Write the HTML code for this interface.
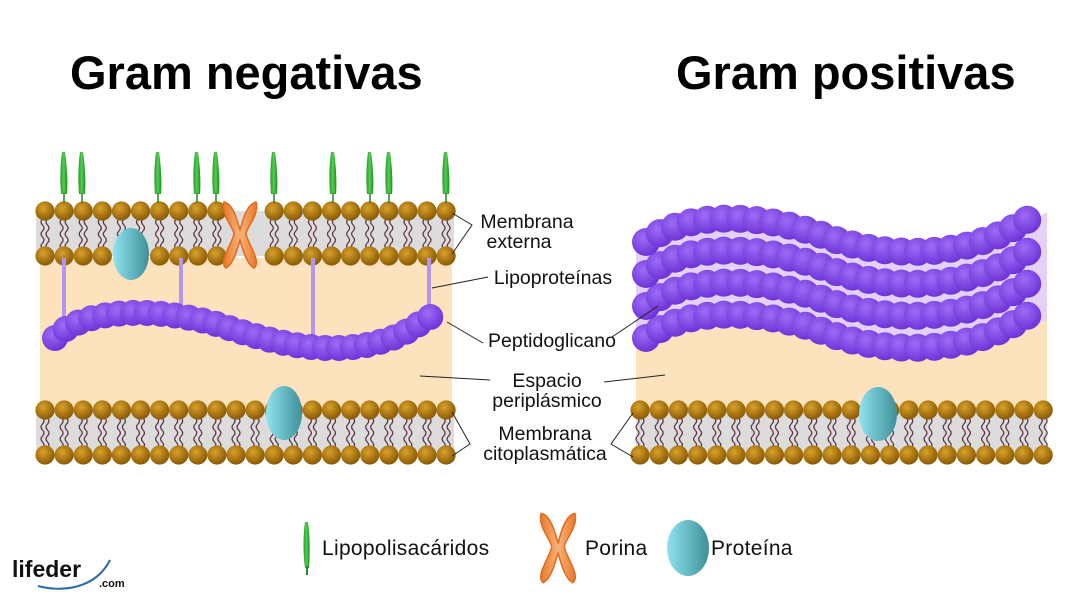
<!DOCTYPE html>
<html><head><meta charset="utf-8">
<style>
html,body{margin:0;padding:0;background:#fff;}
svg{display:block;}
text{font-family:"Liberation Sans",sans-serif;}
.lbl{font-size:19.5px;fill:#111;text-anchor:middle;}
.leg{font-size:21px;fill:#111;letter-spacing:0.3px;}
</style></head><body>
<svg id="s" width="1080" height="612" viewBox="0 0 1080 612" xmlns="http://www.w3.org/2000/svg">
<defs>
<radialGradient id="head" cx="40%" cy="35%" r="65%"><stop offset="0" stop-color="#d9a12a"/><stop offset="1" stop-color="#8a5a05"/></radialGradient>
<radialGradient id="pg" cx="40%" cy="35%" r="70%"><stop offset="0" stop-color="#9d6cf5"/><stop offset="1" stop-color="#6a2fd6"/></radialGradient>
<linearGradient id="prot" x1="0" x2="1"><stop offset="0" stop-color="#8fe3ef"/><stop offset="1" stop-color="#3f8f98"/></linearGradient>
<linearGradient id="por" x1="0" x2="1"><stop offset="0" stop-color="#e8782a"/><stop offset="0.5" stop-color="#f7b27a"/><stop offset="1" stop-color="#e8782a"/></linearGradient>
<linearGradient id="lps" x1="0" x2="1"><stop offset="0" stop-color="#2a9a2a"/><stop offset="0.5" stop-color="#4fcf4f"/><stop offset="1" stop-color="#1f8a1f"/></linearGradient>
</defs>
<text x="70" y="89" font-size="47" font-weight="bold" fill="#000">Gram negativas</text>
<text x="676" y="89" font-size="47" font-weight="bold" fill="#000">Gram positivas</text>

<!-- backgrounds -->
<rect x="40" y="258" width="412" height="150" fill="#fde3bd"/>
<rect x="36" y="211" width="418" height="45" fill="#dcdcdc"/>
<rect x="36" y="410" width="418" height="45" fill="#dcdcdc"/>
<rect x="636" y="300" width="411" height="110" fill="#fde3bd"/>
<path d="M636 242 C680 208 770 215 830 238 C900 262 980 255 1047 212 L1047 320 C980 350 900 362 830 338 C770 315 690 308 636 340 Z" fill="#e3d2f5"/>
<rect x="636" y="410" width="411" height="45" fill="#dcdcdc"/>
<g id="dyn"></g>

<!-- lipoproteins -->
<g stroke="#b596ee" stroke-width="4">
<line x1="64" y1="258" x2="64" y2="318"/>
<line x1="181" y1="258" x2="181" y2="310"/>
<line x1="313" y1="258" x2="313" y2="346"/>
<line x1="429" y1="258" x2="429" y2="306"/>
</g>
<g id="pgl"></g>
<g id="top"></g>

<!-- labels -->
<g stroke="#222" stroke-width="1" fill="none">
<polyline points="452,213 472,225 452,254"/>
<line x1="488" y1="277" x2="432" y2="288"/>
<line x1="483" y1="343" x2="447" y2="322"/>
<line x1="420" y1="376" x2="490" y2="380"/>
<polyline points="452,412 470,444 452,456"/>
<line x1="612" y1="337" x2="658" y2="306"/>
<line x1="604" y1="382" x2="665" y2="375"/>
<polyline points="633,413 611,444 633,457"/>
</g>
<text class="lbl" x="527" y="228">Membrana</text>
<text class="lbl" x="519" y="248">externa</text>
<text class="lbl" x="553" y="284">Lipoproteínas</text>
<text class="lbl" x="552" y="347">Peptidoglicano</text>
<text class="lbl" x="547" y="387">Espacio</text>
<text class="lbl" x="547" y="407">periplásmico</text>
<text class="lbl" x="545" y="440">Membrana</text>
<text class="lbl" x="545" y="460">citoplasmática</text>

<!-- legend -->
<path d="M305 522 C303 535 303 555 305 568 L309 568 C310 555 310 535 308 522 Z" fill="url(#lps)"/>
<line x1="307" y1="566" x2="307" y2="575" stroke="#1f8a1f" stroke-width="2"/>
<text class="leg" x="322" y="555">Lipopolisacáridos</text>
<g id="legpor"></g>
<text class="leg" x="585" y="555">Porina</text>
<ellipse cx="688" cy="548" rx="21" ry="28" fill="url(#prot)"/>
<text class="leg" x="711" y="555">Proteína</text>

<text x="12" y="577" font-family="Liberation Serif,serif" font-weight="bold" font-size="23" fill="#111">lifeder</text>
<text x="99" y="587" font-family="Liberation Serif,serif" font-weight="bold" font-size="11" fill="#111">.com</text>
<path d="M38 586 C60 592 95 590 110 560" stroke="#2a6aa8" stroke-width="2" fill="none"/>
</svg>
<script>
var NS="http://www.w3.org/2000/svg";
function el(p,t,a){var e=document.createElementNS(NS,t);for(var k in a)e.setAttribute(k,a[k]);p.appendChild(e);return e;}
var dyn=document.getElementById('dyn'),top_=document.getElementById('top'),pgl=document.getElementById('pgl');
function membrane(x0,n,dx,y1,y2,skip1,skip2){
  for(var i=0;i<n;i++){
    var x=x0+i*dx;
    var s1=skip1&&skip1(x), s2=skip2&&skip2(x);
    if(!(s1&&s2)){
    [-2.5,2.5].forEach(function(o){
      var d="M"+(x+o)+" "+(y1+8);
      for(var y=y1+8;y<y2-8;y+=6){d+=" Q"+(x+o+(((y/6)|0)%2?3:-3))+" "+(y+3)+" "+(x+o)+" "+(y+6);}
      el(dyn,'path',{d:d,stroke:'#5b3340','stroke-width':1.2,fill:'none'});
    });}
    if(!s1)el(dyn,'circle',{cx:x,cy:y1,r:9.6,fill:'url(#head)'});
    if(!s2)el(dyn,'circle',{cx:x,cy:y2,r:9.6,fill:'url(#head)'});
  }
}
var por=function(x){return x>222&&x<262;};
membrane(45,22,19.1,211,256,por,function(x){return por(x)||(x>110&&x<150);});
membrane(45,22,19.1,410,455);
membrane(640,22,19.2,410,455);
function porin(g,cx,cy,s){
  var d="M"+(cx-16*s)+" "+(cy-32*s)+" C"+(cx-6*s)+" "+(cy-30*s)+" "+(cx-2*s)+" "+(cy-10*s)+" "+cx+" "+(cy-4*s)+
  " C"+(cx+2*s)+" "+(cy-10*s)+" "+(cx+6*s)+" "+(cy-30*s)+" "+(cx+16*s)+" "+(cy-32*s)+
  " C"+(cx+20*s)+" "+(cy-20*s)+" "+(cx+6*s)+" "+(cy-6*s)+" "+(cx+6*s)+" "+cy+
  " C"+(cx+8*s)+" "+(cy+10*s)+" "+(cx+22*s)+" "+(cy+28*s)+" "+(cx+14*s)+" "+(cy+34*s)+
  " C"+(cx+6*s)+" "+(cy+30*s)+" "+(cx+2*s)+" "+(cy+12*s)+" "+cx+" "+(cy+6*s)+
  " C"+(cx-2*s)+" "+(cy+12*s)+" "+(cx-6*s)+" "+(cy+30*s)+" "+(cx-14*s)+" "+(cy+34*s)+
  " C"+(cx-22*s)+" "+(cy+28*s)+" "+(cx-8*s)+" "+(cy+10*s)+" "+(cx-6*s)+" "+cy+
  " C"+(cx-6*s)+" "+(cy-6*s)+" "+(cx-20*s)+" "+(cy-20*s)+" "+(cx-16*s)+" "+(cy-32*s)+" Z";
  el(g,'path',{d:d,fill:'url(#por)',stroke:'#e06a1c','stroke-width':1.5});
}
porin(top_,240,234,1);
porin(document.getElementById('legpor'),558,547,1.05);
el(top_,'ellipse',{cx:131,cy:254,rx:18,ry:26,fill:'url(#prot)'});
el(top_,'ellipse',{cx:284,cy:413,rx:18,ry:27,fill:'url(#prot)'});
el(top_,'ellipse',{cx:878,cy:414,rx:19,ry:27,fill:'url(#prot)'});
[64,82,158,197,216,274,333,370,389,446].forEach(function(x){
  el(top_,'path',{d:"M"+(x-2)+" 152 C"+(x-4)+" 165 "+(x-4)+" 182 "+(x-3)+" 194 L"+(x+3)+" 194 C"+(x+4)+" 182 "+(x+3)+" 165 "+(x+1)+" 152 Z",fill:'url(#lps)'});
  el(top_,'line',{x1:x,y1:193,x2:x,y2:203,stroke:'#1f8a1f','stroke-width':1.5});
});
function chain(g,d,sp,r){
  var p=el(g,'path',{d:d,fill:'none'});var L=p.getTotalLength();
  for(var l=0;l<=L;l+=sp){var pt=p.getPointAtLength(l);el(g,'circle',{cx:pt.x,cy:pt.y,r:r,fill:'url(#pg)'});}
}
chain(pgl,"M55 338 C80 310 150 305 220 325 C280 345 340 360 400 335 C420 325 430 315 440 313",14,13);
for(var k=3;k>=0;k--){
  var o=k*32;
  chain(pgl,"M646 "+(242+o)+" C690 "+(208+o)+" 770 "+(215+o)+" 830 "+(238+o)+" C900 "+(262+o)+" 980 "+(255+o)+" 1034 "+(215+o),16.5,14);
}
</script>
</body></html>
